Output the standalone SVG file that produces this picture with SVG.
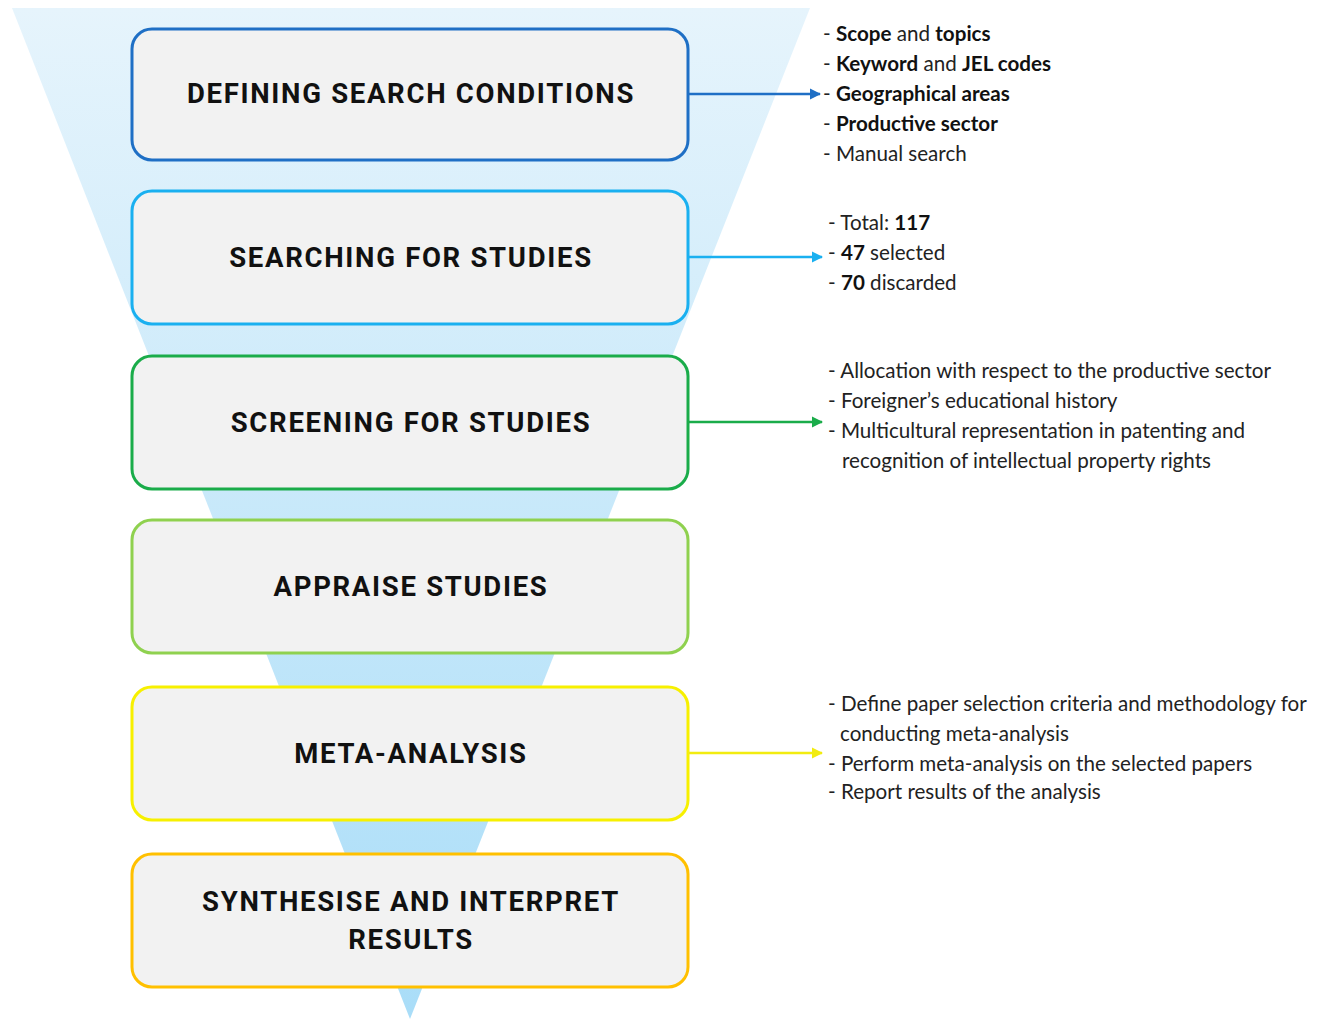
<svg xmlns="http://www.w3.org/2000/svg" width="1324" height="1019" viewBox="0 0 1324 1019">
  <defs>
    <linearGradient id="funnelFill" x1="0" y1="0" x2="0" y2="1">
      <stop offset="0" stop-color="#e6f4fc"/>
      <stop offset="1" stop-color="#a9ddf8"/>
    </linearGradient>
    <marker id="arrowBlue" viewBox="0 0 10 10" refX="9" refY="5" markerWidth="4.5" markerHeight="4.5" orient="auto" markerUnits="strokeWidth">
      <path d="M0,0 L10,5 L0,10 z" fill="#1f6fc5"/>
    </marker>
    <marker id="arrowSky" viewBox="0 0 10 10" refX="9" refY="5" markerWidth="4.5" markerHeight="4.5" orient="auto" markerUnits="strokeWidth">
      <path d="M0,0 L10,5 L0,10 z" fill="#1ab0f0"/>
    </marker>
    <marker id="arrowGreen" viewBox="0 0 10 10" refX="9" refY="5" markerWidth="4.5" markerHeight="4.5" orient="auto" markerUnits="strokeWidth">
      <path d="M0,0 L10,5 L0,10 z" fill="#1aac4a"/>
    </marker>
    <marker id="arrowYellow" viewBox="0 0 10 10" refX="9" refY="5" markerWidth="4.5" markerHeight="4.5" orient="auto" markerUnits="strokeWidth">
      <path d="M0,0 L10,5 L0,10 z" fill="#f2ec10"/>
    </marker>
  </defs>
  <style>
    .box { fill: #f2f2f2; stroke-width: 3; }
    .title { font-family: Roboto, "Liberation Sans", sans-serif; font-weight: 700; font-size: 27.5px; letter-spacing: 1.7px; fill: #111; text-anchor: middle; }
    .note { font-family: Lato, "Noto Sans", sans-serif; font-size: 20.6px; fill: #222; }
    .note .b { font-weight: 700; fill: #111; }
    .link { fill: none; stroke-width: 2.5; }
  </style>

  <rect width="1324" height="1019" fill="#ffffff"/>

  <!-- funnel backdrop -->
  <polygon points="12,8 810,8 410,1019" fill="url(#funnelFill)"/>

  <g id="step-define">
    <rect class="box" x="132" y="29" width="556" height="131" rx="20" stroke="#1f6fc5"/>
    <text class="title" x="411" y="103">DEFINING SEARCH CONDITIONS</text>
  </g>
  <g id="step-search">
    <rect class="box" x="132" y="191" width="556" height="133" rx="20" stroke="#1ab0f0"/>
    <text class="title" x="411" y="267">SEARCHING FOR STUDIES</text>
  </g>
  <g id="step-screen">
    <rect class="box" x="132" y="356" width="556" height="133" rx="20" stroke="#1aac4a"/>
    <text class="title" x="411" y="432">SCREENING FOR STUDIES</text>
  </g>
  <g id="step-appraise">
    <rect class="box" x="132" y="520" width="556" height="133" rx="20" stroke="#8fd14f"/>
    <text class="title" x="411" y="596">APPRAISE STUDIES</text>
  </g>
  <g id="step-meta">
    <rect class="box" x="132" y="687" width="556" height="133" rx="20" stroke="#f7f000"/>
    <text class="title" x="411" y="763">META-ANALYSIS</text>
  </g>
  <g id="step-synthesise">
    <rect class="box" x="132" y="854" width="556" height="133" rx="20" stroke="#ffc000"/>
    <text class="title" x="411" y="911">SYNTHESISE AND INTERPRET</text>
    <text class="title" x="411" y="949">RESULTS</text>
  </g>

  <g id="connectors">
    <line class="link" x1="688" y1="94" x2="820" y2="94" stroke="#1f6fc5" marker-end="url(#arrowBlue)"/>
    <line class="link" x1="688" y1="257" x2="822" y2="257" stroke="#1ab0f0" marker-end="url(#arrowSky)"/>
    <line class="link" x1="688" y1="422" x2="822" y2="422" stroke="#1aac4a" marker-end="url(#arrowGreen)"/>
    <line class="link" x1="688" y1="753" x2="822" y2="753" stroke="#f2ec10" marker-end="url(#arrowYellow)"/>
  </g>

  <g id="notes-define" class="note">
    <text x="823" y="41">- <tspan class="b">Scope</tspan> and <tspan class="b">topics</tspan></text>
    <text x="823" y="71">- <tspan class="b">Keyword</tspan> and <tspan class="b">JEL codes</tspan></text>
    <text x="823" y="101">- <tspan class="b">Geographical areas</tspan></text>
    <text x="823" y="131">- <tspan class="b">Productive sector</tspan></text>
    <text x="823" y="161">- Manual search</text>
  </g>
  <g id="notes-search" class="note">
    <text x="828" y="230">- Total: <tspan class="b">117</tspan></text>
    <text x="828" y="260">- <tspan class="b">47</tspan> selected</text>
    <text x="828" y="290">- <tspan class="b">70</tspan> discarded</text>
  </g>
  <g id="notes-screen" class="note">
    <text x="828" y="378">- Allocation with respect to the productive sector</text>
    <text x="828" y="408">- Foreigner’s educational history</text>
    <text x="828" y="438">- Multicultural representation in patenting and</text>
    <text x="842" y="468">recognition of intellectual property rights</text>
  </g>
  <g id="notes-meta" class="note">
    <text x="828" y="711">- Define paper selection criteria and methodology for</text>
    <text x="840" y="741">conducting meta-analysis</text>
    <text x="828" y="771">- Perform meta-analysis on the selected papers</text>
    <text x="828" y="799">- Report results of the analysis</text>
  </g>
</svg>
